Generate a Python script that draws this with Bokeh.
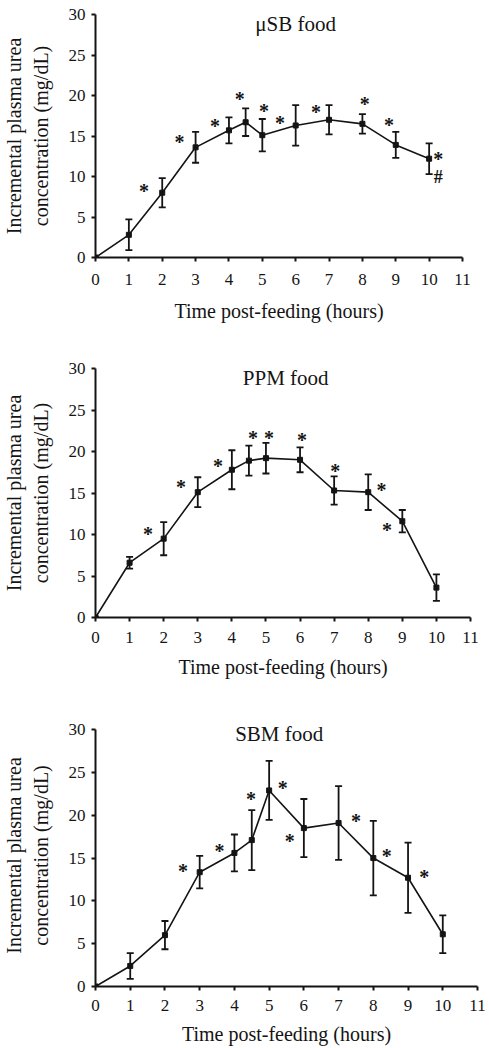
from bokeh.plotting import figure
from bokeh.models import ColumnDataSource, Whisker, TeeHead, FixedTicker, Range1d, Label
from bokeh.layouts import column
from bokeh.core.properties import value
from bokeh.embed import file_html
from bokeh.resources import INLINE

# ---------------- data ----------------
titles = ["\u03bcSB food", "PPM food", "SBM food"]

usb_time = [0, 1, 2, 3, 4, 4.5, 5, 6, 7, 8, 9, 10]
usb_mean = [0, 2.8, 8.0, 13.6, 15.7, 16.7, 15.1, 16.3, 17.0, 16.5, 13.9, 12.2]
usb_err = [0, 1.9, 1.8, 1.9, 1.6, 1.7, 2.0, 2.5, 1.8, 1.2, 1.6, 1.9]
usb_star_x = [1.45, 2.52, 3.58, 4.32, 5.05, 5.53, 6.61, 8.07, 8.8, 10.27]
usb_star_y = [8.7, 14.7, 16.7, 20.1, 18.6, 17.1, 18.4, 19.4, 16.9, 12.6]
usb_hash_x = [10.27]
usb_hash_y = [9.9]

ppm_time = [0, 1, 2, 3, 4, 4.5, 5, 6, 7, 8, 9, 10]
ppm_mean = [0, 6.6, 9.5, 15.1, 17.8, 18.9, 19.2, 19.0, 15.3, 15.1, 11.6, 3.6]
ppm_err = [0, 0.7, 2.0, 1.8, 2.35, 1.8, 1.85, 1.5, 1.7, 2.15, 1.35, 1.6]
ppm_star_x = [1.54, 2.51, 3.59, 4.62, 5.09, 6.06, 7.03, 8.39, 8.55]
ppm_star_y = [10.5, 16.2, 18.7, 22.1, 22.1, 21.9, 18.1, 15.8, 11.0]

sbm_time = [0, 1, 2, 3, 4, 4.5, 5, 6, 7, 8, 9, 10]
sbm_mean = [0, 2.4, 6.0, 13.35, 15.6, 17.1, 22.9, 18.5, 19.1, 15.0, 12.7, 6.1]
sbm_err = [0, 1.5, 1.65, 1.9, 2.15, 3.5, 3.45, 3.4, 4.3, 4.35, 4.1, 2.2]
sbm_star_x = [2.52, 3.57, 4.48, 5.39, 5.59, 7.5, 8.39, 9.47]
sbm_star_y = [14.0, 16.3, 22.4, 23.6, 17.5, 19.8, 15.7, 13.3]

title_pos = [(6.0, 28.8), (5.58, 28.9), (5.29, 29.5)]

x_ticks = list(range(0, 12))
y_ticks = list(range(0, 31, 5))

FONT = "Liberation Serif"
INK = "#141414"


def make_panel(idx, t, m, e, sx, sy, hx, hy, width, height, bl, br, bt, bb, lab_so, title_so,
               y_top=30):
    p = figure(width=width, height=height, output_backend="svg", toolbar_location=None,
               x_range=Range1d(0, 11), y_range=Range1d(0, y_top),
               min_border_left=bl, min_border_right=br, min_border_top=bt, min_border_bottom=bb)
    p.outline_line_color = None
    p.grid.visible = False
    p.background_fill_color = "white"
    p.border_fill_color = "white"

    for ax in (p.xaxis[0], p.yaxis[0]):
        ax.axis_line_width = 2
        ax.axis_line_color = INK
        ax.major_tick_line_color = INK
        ax.major_tick_line_width = 2
        ax.major_tick_in = 0
        ax.major_tick_out = 4
        ax.minor_tick_line_color = None
        ax.major_label_text_font = FONT
        ax.major_label_text_font_size = "17px"
        ax.major_label_text_color = INK
        ax.axis_label_text_font = FONT
        ax.axis_label_text_font_size = "20px"
        ax.axis_label_text_font_style = "normal"
        ax.axis_label_text_color = INK

    p.xaxis.ticker = FixedTicker(ticks=x_ticks)
    p.yaxis.ticker = FixedTicker(ticks=y_ticks)
    p.yaxis.bounds = (0, 30)
    p.xaxis.axis_label = "Time post-feeding (hours)"
    p.yaxis.axis_label = "Incremental plasma urea\nconcentration (mg/dL)"
    p.xaxis.major_label_standoff = lab_so
    p.xaxis.axis_label_standoff = title_so
    p.yaxis.major_label_standoff = 6
    p.yaxis.axis_label_standoff = 14

    upper = [a + b for a, b in zip(m, e)]
    lower = [a - b for a, b in zip(m, e)]
    src = ColumnDataSource(dict(t=t, m=m, upper=upper, lower=lower))
    w = Whisker(base="t", upper="upper", lower="lower", source=src,
                line_color=INK, line_width=1.8,
                upper_head=TeeHead(size=7, line_color=INK, line_width=1.8),
                lower_head=TeeHead(size=7, line_color=INK, line_width=1.8))
    p.add_layout(w)
    p.line("t", "m", source=src, line_color=INK, line_width=1.6)
    p.scatter("t", "m", source=src, marker="square", size=5, fill_color=INK, line_color=INK)

    p.text(x=sx, y=sy, text=["*"] * len(sx), text_font=value(FONT), text_font_size="20px",
           text_font_style="bold", text_align="center", text_baseline="middle", y_offset=4,
           text_color=INK)
    if hx:
        p.text(x=hx, y=hy, text=["#"] * len(hx), text_font=value(FONT), text_font_size="18px",
               text_font_style="bold", text_align="center", text_baseline="middle", text_color=INK)

    tx, ty = title_pos[idx]
    p.add_layout(Label(x=tx, y=ty, text=titles[idx], text_font=FONT, text_font_size="21px",
                       text_align="center", text_baseline="middle", text_color=INK))
    return p


p1 = make_panel(0, usb_time, usb_mean, usb_err, usb_star_x, usb_star_y, usb_hash_x, usb_hash_y,
                width=474, height=330, bl=95, br=12, bt=14, bb=73, lab_so=12, title_so=12)
p2 = make_panel(1, ppm_time, ppm_mean, ppm_err, ppm_star_x, ppm_star_y, [], [],
                width=482, height=350, bl=94, br=12, bt=38, bb=61, lab_so=10, title_so=10)
p3 = make_panel(2, sbm_time, sbm_mean, sbm_err, sbm_star_x, sbm_star_y, [], [],
                width=489, height=367, bl=95, br=6, bt=44, bb=60, lab_so=9, title_so=9,
                y_top=30.6)

layout = column(p1, p2, p3, spacing=0)
open("out.html", "w").write(file_html(layout, INLINE))
